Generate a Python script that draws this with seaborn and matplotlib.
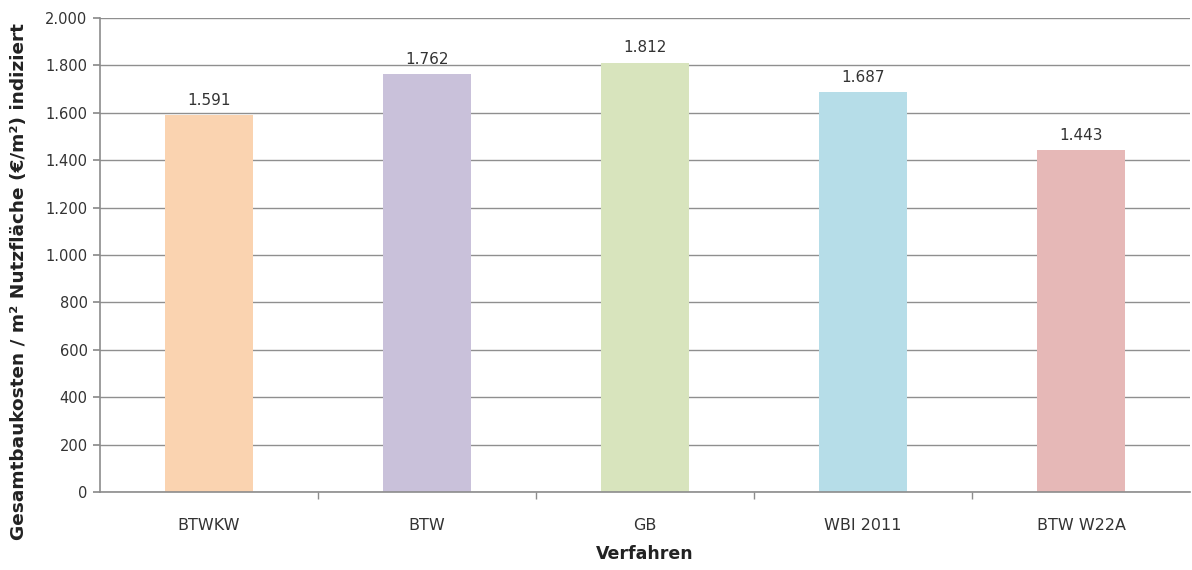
import matplotlib
matplotlib.use("Agg")
import matplotlib.pyplot as plt
import seaborn as sns
import pandas as pd
from matplotlib.ticker import FuncFormatter, FixedLocator

verfahren = ["BTWKW", "BTW", "GB", "WBI 2011", "BTW W22A"]
kosten = [1591, 1762, 1812, 1687, 1443]
farben = ["#FAD3B0", "#C9C1DA", "#D8E4BD", "#B6DDE8", "#E6B8B7"]

df = pd.DataFrame({"Verfahren": verfahren, "Kosten": kosten})

sns.set_theme(style="white")
plt.rcParams["font.family"] = ["DejaVu Sans"]

fig = plt.figure(figsize=(11.92, 5.70), dpi=100)
ax = fig.add_axes([0.0839, 0.1368, 0.9145, 0.8316])

sns.barplot(data=df, x="Verfahren", y="Kosten", hue="Verfahren",
            palette=farben, width=0.4, legend=False, ax=ax, saturation=1,
            linewidth=0, edgecolor="none")

ax.set_xlim(-0.5, len(verfahren) - 0.5)
ax.set_ylim(0, 2000)
ax.set_yticks(range(0, 2001, 200))
ax.yaxis.set_major_formatter(FuncFormatter(lambda v, p: f"{int(v):,}".replace(",", ".")))
ax.grid(axis="y", color="#8f8f8f", linewidth=1.0)
ax.set_axisbelow(True)

for s in ["top", "right"]:
    ax.spines[s].set_visible(False)
for s in ["left", "bottom"]:
    ax.spines[s].set_color("#8c8c8c")
    ax.spines[s].set_linewidth(1.2)

ax.tick_params(axis="y", which="major", left=True, length=5, color="#8c8c8c",
               labelsize=10.5, labelcolor="#333333", pad=4)
ax.tick_params(axis="x", which="major", bottom=False, labelsize=11.5,
               labelcolor="#333333", pad=13)
ax.xaxis.set_minor_locator(FixedLocator([i + 0.5 for i in range(len(verfahren) - 1)]))
ax.tick_params(axis="x", which="minor", bottom=True, length=5, color="#8c8c8c")

for i, v in enumerate(kosten):
    ax.text(i, v + 30, f"{v:,}".replace(",", "."), ha="center", va="bottom",
            fontsize=11, color="#333333")

ax.set_xlabel("Verfahren", fontsize=12.5, fontweight="bold", labelpad=8,
              color="#222222")
ax.set_ylabel("Gesamtbaukosten / m² Nutzfläche (€/m²) indiziert",
              fontsize=13.3, fontweight="bold", color="#222222")
ax.yaxis.set_label_coords(-0.066, 0.443)

fig.savefig("out.png", dpi=100)
